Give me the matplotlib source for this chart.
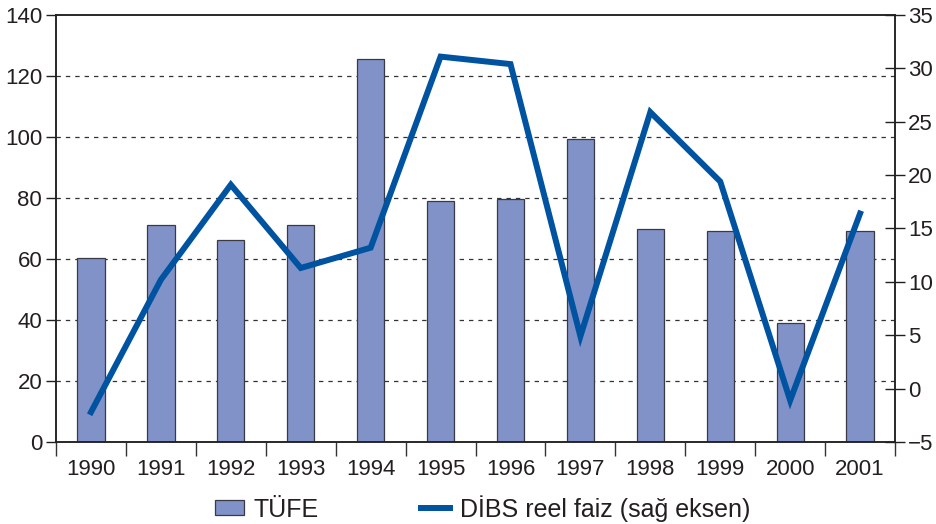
import numpy as np
import matplotlib.pyplot as plt
from matplotlib.lines import Line2D
from matplotlib.patches import Patch

years = ['1990', '1991', '1992', '1993', '1994', '1995', '1996', '1997', '1998', '1999', '2000', '2001']
tufe = [60.3, 71.1, 66.2, 71.1, 125.6, 79.0, 79.7, 99.3, 69.8, 69.2, 39.0, 69.2]
dibs = [-2.2, 10.2, 19.1, 11.3, 13.2, 31.1, 30.4, 4.9, 25.9, 19.4, -1.1, 16.4]

plt.rcParams['font.family'] = ['Liberation Sans', 'DejaVu Sans']
txt = '#231f20'

def main():
    fig = plt.figure(figsize=(9.37, 5.24), dpi=100)
    ax = fig.add_axes([0.0598, 0.1565, 0.8954, 0.8149])
    x = np.arange(len(years))

    ax.bar(x, tufe, width=0.39, color='#8092c8', edgecolor='#3a3a45', linewidth=0.9, zorder=2)
    ax.set_xlim(-0.5, len(years) - 0.5)
    ax.set_ylim(0, 140)
    ax.set_yticks(range(0, 141, 20))
    for g in range(20, 140, 20):
        ax.axhline(g, color='#333333', lw=0.9, ls=(0, (3.5, 4)), zorder=1)

    ax.set_xticks(x)
    ax.set_xticklabels(years)
    ax.set_xticks(np.arange(-0.5, len(years)), minor=True)
    ax.tick_params(axis='x', which='major', length=0, pad=12, labelsize=16, colors=txt)
    ax.tick_params(axis='x', which='minor', length=10, width=1, color='#333333')
    ax.tick_params(axis='y', length=7, width=1, labelsize=16, colors=txt, pad=3)
    for s in ax.spines.values():
        s.set_color('#222222')
        s.set_linewidth(1.1)

    ax2 = ax.twinx()
    ax2.plot(x, dibs, color='#0053a0', lw=4.3, solid_joinstyle='miter', zorder=3)
    ax2.set_ylim(-5, 35)
    ax2.set_yticks(range(-5, 36, 5))
    ax2.tick_params(axis='y', direction='inout', length=15, width=1, labelsize=16, colors=txt, pad=2)
    for s in ax2.spines.values():
        s.set_color('#222222')
        s.set_linewidth(1.1)

    handles = [Patch(facecolor='#8092c8', edgecolor='#3a3a45', linewidth=0.9),
               Line2D([0], [0], color='#0053a0', lw=4.3)]
    fig.legend(handles, ['TÜFE', 'DİBS reel faiz (sağ eksen)'], loc='center',
               bbox_to_anchor=(0.515, 0.03), ncol=2, frameon=False, fontsize=18,
               columnspacing=4.1, handlelength=1.15, handleheight=0.56,
               handletextpad=0.4, labelcolor=txt, borderpad=0, borderaxespad=0)

    fig.savefig('out.png', dpi=100)

if __name__ == "__main__":
    main()
